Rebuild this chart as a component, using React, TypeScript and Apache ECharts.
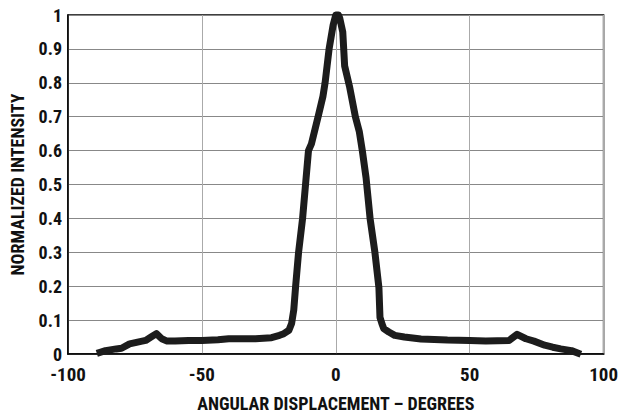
import React, { useEffect, useRef } from "react";
import * as echarts from "echarts";

const angles = [
  -88, -86, -82, -80, -77, -74, -71, -69, -67, -65, -63, -60, -55, -50, -44, -40, -30, -24, -21, -19.4,
  -17.5, -16.5, -15.7, -15, -13.9, -12.4, -11.3, -10.2, -9.1, -6.6, -4.8, -4, -2.5, -1, 0, 1,
  1.5, 2.6, 3.3, 5.1, 7.3, 8.8, 9.9, 11.3, 12.8, 14.6, 16.1, 16.5, 17.2, 17.9, 19.8, 22, 25.6,
  31.8, 41.7, 50, 56, 64.7, 67.7, 71, 74, 78, 81, 84, 88, 90.3,
];
const intensity = [
  0.005, 0.01, 0.015, 0.017, 0.03, 0.035, 0.04, 0.05, 0.06, 0.045, 0.038, 0.038, 0.04, 0.04, 0.042, 0.045, 0.045, 0.048, 0.055, 0.06,
  0.07, 0.09, 0.13, 0.2, 0.3, 0.4, 0.5, 0.6, 0.62, 0.7, 0.76, 0.8, 0.9, 0.97, 1.0, 1.0,
  0.99, 0.95, 0.85, 0.79, 0.7, 0.655, 0.6, 0.52, 0.4, 0.3, 0.196, 0.108, 0.09, 0.075, 0.065, 0.055, 0.05,
  0.044, 0.041, 0.04, 0.038, 0.04, 0.058, 0.045, 0.038, 0.026, 0.02, 0.015, 0.01, 0.003,
];

const FONT = "'Roboto Condensed', 'Open Sans Condensed', sans-serif";

export default function App() {
  const ref = useRef<HTMLDivElement>(null);
  useEffect(() => {
    document.body.style.margin = "0";
    const chart = echarts.init(ref.current!, null, { renderer: "svg" });
    chart.setOption({
      animation: false,
      backgroundColor: "#ffffff",
      grid: {
        left: 60,
        right: 15,
        top: 15,
        bottom: 60,
        show: true,
        borderColor: "#000",
        borderWidth: 1.5,
        backgroundColor: "transparent",
      },
      xAxis: {
        type: "value",
        min: -100,
        max: 100,
        interval: 50,
        name: "ANGULAR DISPLACEMENT – DEGREES",
        nameLocation: "middle",
        nameGap: 40,
        nameTextStyle: { fontFamily: FONT, fontWeight: 700, fontSize: 18, color: "#111", lineHeight: 18 },
        axisLine: { show: true, onZero: false, lineStyle: { color: "#000", width: 1.5 } },
        axisTick: { show: false },
        axisLabel: { fontFamily: FONT, fontWeight: 700, fontSize: 19, lineHeight: 15, color: "#111", margin: 13 },
        splitLine: { show: true, lineStyle: { color: "#aaa", width: 1 } },
      },
      yAxis: {
        type: "value",
        min: 0,
        max: 1,
        interval: 0.1,
        name: "NORMALIZED INTENSITY",
        nameLocation: "middle",
        nameGap: 42,
        nameTextStyle: { fontFamily: FONT, fontWeight: 700, fontSize: 18, color: "#111", lineHeight: 18 },
        axisLine: { show: true, onZero: false, lineStyle: { color: "#000", width: 1.5 } },
        axisTick: { show: false },
        axisLabel: { fontFamily: FONT, fontWeight: 700, fontSize: 18, lineHeight: 14, color: "#111", margin: 6 },
        splitLine: { show: true, lineStyle: { color: "#888", width: 1 } },
      },
      series: [
        {
          type: "line",
          data: angles.map((a, i) => [a, intensity[i]]),
          showSymbol: false,
          smooth: false,
          lineStyle: { color: "#1c1c1c", width: 7, cap: "square", join: "round" },
          clip: false,
        },
      ],
    });
    return () => chart.dispose();
  }, []);
  return <div ref={ref} style={{ position: "absolute", left: 0, top: 0, width: 621, height: 417 }} />;
}
